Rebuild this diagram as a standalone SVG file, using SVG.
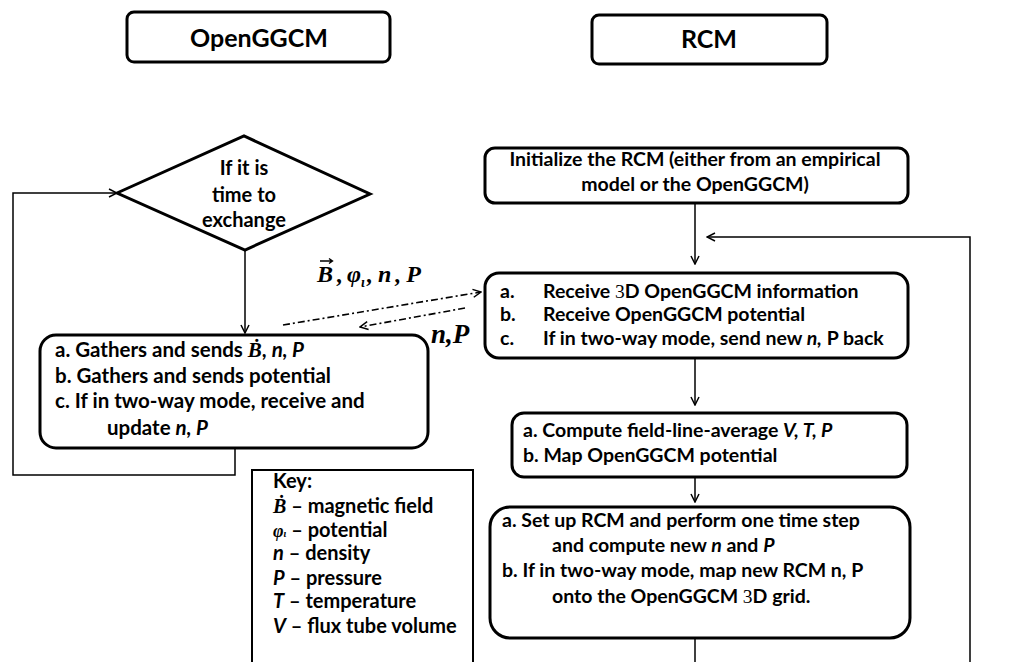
<svg xmlns="http://www.w3.org/2000/svg" width="1034" height="662" viewBox="0 0 1034 662">
  <style>
    .box { fill: #fff; stroke: #000; stroke-width: 3; }
    .line { fill: none; stroke: #000; stroke-width: 1.5; }
    .dash { fill: none; stroke: #000; stroke-width: 1.6; stroke-dasharray: 7 3 2 3; }
    .t { font-family: Lato, "Liberation Sans", sans-serif; font-size: 19.5px; font-weight: bold; fill: #000; }
    .l { font-size: 20.5px; }
    .k { font-size: 20px; }
    .title { font-size: 25px; }
    .m { font-family: "Liberation Serif", "DejaVu Serif", serif; font-style: italic; font-weight: bold; fill: #000; }
    .i { font-style: italic; }
  </style>
  <defs>
    <marker id="open" viewBox="0 0 10 10" refX="9" refY="5" markerWidth="10" markerHeight="10" markerUnits="userSpaceOnUse" orient="auto">
      <path d="M1,1 L9,5 L1,9" fill="none" stroke="#000" stroke-width="1.5"/>
    </marker>
  </defs>

  <rect width="1034" height="662" fill="#fff"/>

  <!-- column headers -->
  <g id="hdr-openggcm">
    <rect class="box" x="127" y="12" width="263" height="50" rx="7"/>
    <text class="t title" x="259" y="47" text-anchor="middle">OpenGGCM</text>
  </g>
  <g id="hdr-rcm">
    <rect class="box" x="592" y="15" width="235" height="49" rx="7"/>
    <text class="t title" x="709" y="48" text-anchor="middle">RCM</text>
  </g>

  <!-- connectors -->
  <g id="connectors">
    <line class="line" x1="245" y1="250" x2="245" y2="333" marker-end="url(#open)"/>
    <polyline class="line" points="235,448 235,475 13,475 13,193 117,193" marker-end="url(#open)"/>
    <line class="line" x1="695" y1="203" x2="695" y2="264" marker-end="url(#open)"/>
    <polyline class="line" points="970,662 970,237 707,237" marker-end="url(#open)"/>
    <line class="line" x1="695" y1="358" x2="695" y2="405" marker-end="url(#open)"/>
    <line class="line" x1="695" y1="477" x2="695" y2="502" marker-end="url(#open)"/>
    <line class="line" x1="695" y1="638" x2="695" y2="662"/>
    <line class="dash" x1="283" y1="325" x2="481" y2="292" marker-end="url(#open)"/>
    <line class="dash" x1="465" y1="308" x2="360" y2="327" marker-end="url(#open)"/>
  </g>

  <!-- exchange quantities: vector B, potential, density, pressure -->
  <g id="lbl-send">
    <path d="M320,261 H332 M329,258.5 L332.5,261 L329,263.5" fill="none" stroke="#000" stroke-width="1.4"/>
    <text class="m" x="317" y="282" font-size="24">B<tspan dx="4">,</tspan><tspan dx="4">φ</tspan><tspan font-size="14" dy="5">ι</tspan><tspan dy="-5" dx="2">,</tspan><tspan dx="5">n</tspan><tspan dx="4">,</tspan><tspan dx="5">P</tspan></text>
  </g>
  <g id="lbl-return">
    <text class="m" x="431" y="343" font-size="27">n,P</text>
  </g>

  <!-- OpenGGCM side -->
  <g id="decision">
    <polygon class="box" points="117,193 244,136 370,194 245,250" stroke-width="3.5"/>
    <text class="t k" x="244" y="175" text-anchor="middle">If it is</text>
    <text class="t k" x="244" y="202" text-anchor="middle">time to</text>
    <text class="t k" x="244" y="227" text-anchor="middle">exchange</text>
  </g>
  <g id="gather">
    <rect class="box" x="40" y="335" width="388" height="113" rx="16"/>
    <text class="t l" x="55" y="357">a. Gathers and sends <tspan class="m" font-size="21">Ḃ</tspan>, <tspan class="i">n, P</tspan></text>
    <text class="t l" x="55" y="383">b. Gathers and sends potential</text>
    <text class="t l" x="55" y="408">c. If in two-way mode, receive and</text>
    <text class="t l" x="107" y="435">update <tspan class="i">n, P</tspan></text>
  </g>
  <g id="key">
    <rect x="252" y="470" width="221" height="200" fill="#fff" stroke="#000" stroke-width="2"/>
    <text class="t k" x="273" y="488">Key:</text>
    <text class="t k" x="273" y="513"><tspan class="m" font-size="20">Ḃ</tspan> – magnetic field</text>
    <text class="t k" x="273" y="537"><tspan class="m" font-size="18">φ</tspan><tspan class="m" font-size="10">ι</tspan> – potential</text>
    <text class="t k" x="273" y="560"><tspan class="i">n</tspan> – density</text>
    <text class="t k" x="273" y="585"><tspan class="i">P</tspan> – pressure</text>
    <text class="t k" x="273" y="608"><tspan class="i">T</tspan> – temperature</text>
    <text class="t k" x="273" y="633"><tspan class="i">V</tspan> – flux tube volume</text>
  </g>

  <!-- RCM side -->
  <g id="init">
    <rect class="box" x="485" y="148" width="423" height="55" rx="10"/>
    <text class="t" x="695" y="166" text-anchor="middle">Initialize the RCM (either from an empirical</text>
    <text class="t" x="695" y="191" text-anchor="middle">model or the OpenGGCM)</text>
  </g>
  <g id="receive">
    <rect class="box" x="485" y="273" width="423" height="85" rx="14"/>
    <text class="t" x="500" y="298">a.</text>
    <text class="t" x="543" y="298">Receive <tspan font-family="Liberation Serif, serif" font-weight="normal">3</tspan>D OpenGGCM information</text>
    <text class="t" x="500" y="321">b.</text>
    <text class="t" x="543" y="321">Receive OpenGGCM potential</text>
    <text class="t" x="500" y="345">c.</text>
    <text class="t" x="543" y="345">If in two-way mode, send new <tspan class="i">n,</tspan> P back</text>
  </g>
  <g id="compute">
    <rect class="box" x="512" y="413" width="395" height="64" rx="12"/>
    <text class="t" x="523" y="437">a. Compute field-line-average <tspan class="i">V, T, P</tspan></text>
    <text class="t" x="523" y="462">b. Map OpenGGCM potential</text>
  </g>
  <g id="step">
    <rect class="box" x="490" y="507" width="420" height="131" rx="20"/>
    <text class="t" x="502" y="527">a. Set up RCM and perform one time step</text>
    <text class="t" x="552" y="552">and compute new <tspan class="i">n</tspan> and <tspan class="i">P</tspan></text>
    <text class="t" x="502" y="577">b. If in two-way mode, map new RCM n, P</text>
    <text class="t" x="552" y="603">onto the OpenGGCM <tspan font-family="Liberation Serif, serif" font-weight="normal">3</tspan>D grid.</text>
  </g>
</svg>
